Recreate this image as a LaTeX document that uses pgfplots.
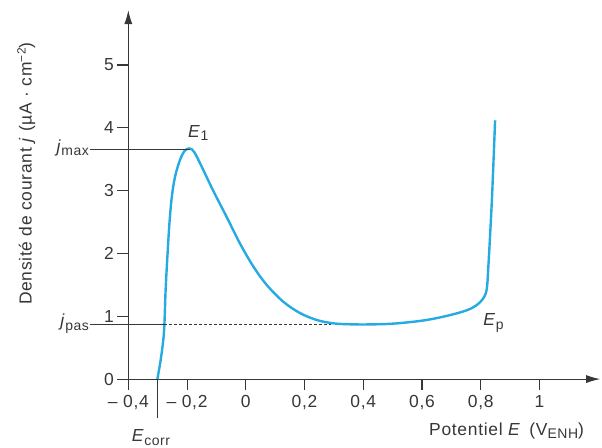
\documentclass[border=0pt]{standalone}
\usepackage{fontspec}
\setmainfont{Liberation Sans}[LetterSpace=4]
\usepackage{pgfplots}
\pgfplotsset{compat=1.18}
\usetikzlibrary{arrows.meta}

\definecolor{curve}{RGB}{38,170,226}
\definecolor{ink}{RGB}{55,55,55}

% subscript / superscript in the text font
\newcommand\lo[1]{\raisebox{-3.5bp}{\fontsize{14}{14}\selectfont #1}}
\newcommand\hi[1]{\raisebox{6bp}{\fontsize{12}{12}\selectfont #1}}
\newcommand\lab{\fontsize{17.5}{20}\selectfont}

\begin{document}
\begin{tikzpicture}
\begin{axis}[
    x=293.6bp, y=62.8bp,
    xmin=-0.4, xmax=1.207, ymin=0, ymax=5.875,
    axis lines=left,
    axis line style={ink, line width=1.1bp, -{Latex[length=14bp,width=8bp]}},
    clip=false,
    tick align=outside,
    major tick length=11bp,
    tick style={ink, line width=1.1bp},
    xtick={-0.4,-0.2,0,0.2,0.4,0.6,0.8,1},
    xticklabels={{– 0,4},{– 0,2},0,{0,2},{0,4},{0,6},{0,8},1},
    ytick={0,1,2,3,4,5},
    yticklabels={0,1,2,3,4,5},
    ticklabel style={font=\lab, text=ink},
    xticklabel style={yshift=-2bp},
]

% polarisation curve
\addplot[curve, line width=2.4bp, smooth, tension=0.55] coordinates {
    (-0.301,0) (-0.290,0.30) (-0.281,0.62) (-0.277,0.89) (-0.273,1.42)
    (-0.267,1.95) (-0.260,2.48) (-0.252,2.90) (-0.241,3.22) (-0.224,3.49)
    (-0.207,3.64) (-0.190,3.67) (-0.175,3.61) (-0.150,3.38) (-0.110,2.99)
    (-0.065,2.58) (-0.020,2.16) (0.026,1.79) (0.071,1.50) (0.128,1.23)
    (0.185,1.05) (0.242,0.94) (0.298,0.887) (0.355,0.872) (0.42,0.87)
    (0.50,0.882) (0.593,0.925) (0.66,0.98) (0.729,1.06) (0.77,1.13)
    (0.797,1.22) (0.813,1.32) (0.821,1.45) (0.826,1.79) (0.838,2.85)
    (0.849,4.12)
};

% guide lines
\addplot[ink, line width=1bp] coordinates {(-0.53,3.66) (-0.190,3.66)};
\addplot[ink, line width=1bp] coordinates {(-0.53,0.87) (-0.277,0.87)};
\addplot[ink, line width=0.9bp, dash pattern=on 3bp off 2bp] coordinates {(-0.277,0.87) (0.29,0.87)};
\addplot[ink, line width=1bp] coordinates {(-0.301,0) (-0.301,-0.62)};

% labels
\node[anchor=base east, inner sep=1bp, text=ink, font=\lab] at (axis cs:-0.53,3.61) {\textit{j}\lo{max}};
\node[anchor=base east, inner sep=1bp, text=ink, font=\lab] at (axis cs:-0.53,0.836) {\textit{j}\lo{pas}};
\node[anchor=base west, inner sep=0pt, text=ink, font=\lab] at (axis cs:-0.197,3.85) {\textit{E}\lo{1}};
\node[anchor=base west, inner sep=0pt, text=ink, font=\lab] at (axis cs:0.808,0.845) {\textit{E}\lo{p}};
\node[anchor=base, inner sep=0pt, text=ink, font=\lab] at (axis cs:-0.323,-0.998) {\textit{E}\lo{corr}};
\node[anchor=base west, inner sep=0pt, text=ink, font=\lab] at (axis cs:0.624,-0.892) {Potentiel \textit{E}\enspace(V\lo{ENH})};
\node[anchor=base west, rotate=90, inner sep=0pt, text=ink, font=\lab] at (axis cs:-0.729,1.178) {Densité de courant \textit{j} (µA · cm\hi{−2})};

\coordinate (bl) at (axis cs:-0.837,-1.083);
\coordinate (tr) at (axis cs:1.213,6.035);
\end{axis}
\pgfresetboundingbox
\path[use as bounding box] (bl) rectangle (tr);
\end{tikzpicture}
\end{document}
